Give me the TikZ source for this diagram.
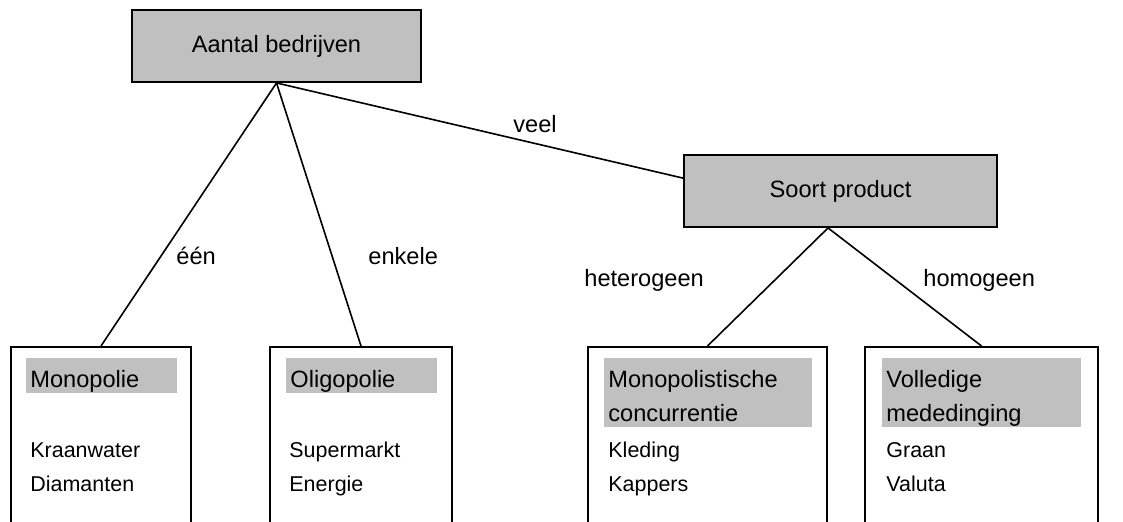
\documentclass[tikz,border=0pt]{standalone}
\usepackage{fontspec}
\setmainfont{Liberation Sans}

\definecolor{boxgray}{RGB}{192,192,192}
\newcommand{\px}{0.466pt}

\tikzset{
    topbox/.style = {draw, fill = boxgray, line width = 0.9pt, inner sep = 0pt,
        minimum height = 33.55pt, font = \fontsize{11}{13}\selectfont},
    catbox/.style = {draw, line width = 0.9pt, anchor = north, inner sep = 0pt,
        minimum height = 102.5pt},
    band/.style 2 args = {fill = boxgray, anchor = north west, inner xsep = 1.86pt,
        inner ysep = 0pt, align = left, text width = #1, text height = 13.5pt,
        text depth = #2, font = \fontsize{11}{15.84}\selectfont},
    examples/.style = {anchor = base west, inner sep = 0pt, align = left,
        text width = 70pt, font = \fontsize{10}{15.84}\selectfont},
    lbl/.style = {anchor = base west, inner sep = 0pt, font = \fontsize{11}{13}\selectfont},
    branch/.style = {line width = 0.75pt}
}

\begin{document}
\begin{tikzpicture}[x = \px, y = -\px]
    \useasboundingbox (0,0) rectangle (1123,522);
    \clip (0,0) rectangle (1123,522);

    % top level
    \node[topbox, minimum width = 134.7pt] (aantal) at (276.5,46) {Aantal bedrijven};
    \node[topbox, minimum width = 145.9pt] (soort) at (840.5,191) {Soort product};

    % market forms
    \node[catbox, minimum width = 83.9pt]  (mono)    at (101,346) {};
    \node[catbox, minimum width = 84.8pt]  (oligo)   at (361,346) {};
    \node[catbox, minimum width = 111.4pt] (monocon) at (707.5,346) {};
    \node[catbox, minimum width = 108.6pt] (volmed)  at (981.5,346) {};

    \node[band = {66.6pt}{2.8pt}] (monotitle) at (26,358) {Monopolie};
    \node[band = {66.6pt}{2.8pt}] (oligotitle) at (286,358) {Oligopolie};
    \node[band = {93.2pt}{18.64pt}] (monocontitle) at (604,358) {Monopolistische\\concurrentie};
    \node[band = {89pt}{18.64pt}] (volmedtitle) at (882,358) {Volledige\\mededinging};

    \node[examples] (monoex)    at (30,458)  {Kraanwater\\Diamanten};
    \node[examples] (oligoex)   at (289,458) {Supermarkt\\Energie};
    \node[examples] (monoconex) at (608,458) {Kleding\\Kappers};
    \node[examples] (volmedex)  at (886,458) {Graan\\Valuta};

    % branches
    \draw[branch] (aantal.south) -- (mono.north);
    \draw[branch] (aantal.south) -- (oligo.north);
    \draw[branch] (aantal.south) -- ([yshift = 6pt]soort.west);
    \draw[branch] ([xshift = -5.8pt]soort.south) -- (monocon.north);
    \draw[branch] ([xshift = -5.8pt]soort.south) -- (volmed.north);

    \node[lbl] (een)    at (176,265) {één};
    \node[lbl] (enkele) at (368,265) {enkele};
    \node[lbl] (veel)   at (513,133) {veel};
    \node[lbl] (hetero) at (584,287) {heterogeen};
    \node[lbl] (homo)   at (923,287) {homogeen};
\end{tikzpicture}
\end{document}
